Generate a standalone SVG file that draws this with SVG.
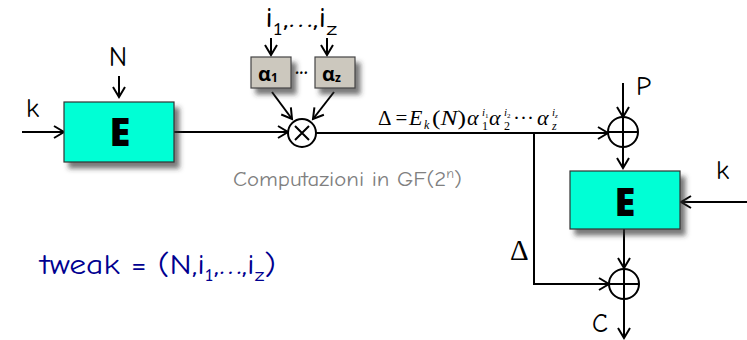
<svg xmlns="http://www.w3.org/2000/svg" width="747" height="340" viewBox="0 0 747 340">
<defs>
<marker id="arr" markerUnits="userSpaceOnUse" markerWidth="14" markerHeight="14" refX="11" refY="6" orient="auto" overflow="visible">
<path d="M1,0 L11,6 L1,12" fill="none" stroke="#000" stroke-width="2"/>
</marker>
<filter id="sh" x="-20%" y="-20%" width="150%" height="160%">
<feDropShadow dx="5" dy="6" stdDeviation="2.5" flood-color="#333" flood-opacity="0.65"/>
</filter>
</defs>
<style>
.lbl{font-family:"Comic Sans MS","Comic Neue","Open Sans","Liberation Sans",sans-serif;fill:#000}
.ebox{fill:#00FFD5;stroke:#333;stroke-width:1.2;filter:url(#sh)}
.abox{fill:#CCC8BE;stroke:#444;stroke-width:1.2;filter:url(#sh)}
.et{font-family:"Open Sans","Liberation Sans",sans-serif;font-weight:800;font-size:38px;text-anchor:middle;fill:#000}
.at{font-family:"Open Sans","Liberation Sans",sans-serif;font-weight:bold;font-size:20px;fill:#000}
.ln{fill:none;stroke:#000;stroke-width:2}
.op{fill:#fff;stroke:#000;stroke-width:2}
.ser{font-family:"Liberation Serif","Times New Roman",serif;fill:#000}
.it{font-style:italic}
</style>

<g id="connectors">
<path class="ln" d="M22,132 L64,132" marker-end="url(#arr)"/>
<path class="ln" d="M119,76 L119,97" marker-end="url(#arr)"/>
<path class="ln" d="M174,132 L288,132" marker-end="url(#arr)"/>
<path class="ln" d="M271,38 L271,55" marker-end="url(#arr)"/>
<path class="ln" d="M327,38 L327,55" marker-end="url(#arr)"/>
<path class="ln" d="M272,92 L292,119" marker-end="url(#arr)"/>
<path class="ln" d="M334,92 L313,119" marker-end="url(#arr)"/>
<path class="ln" d="M316,133 L608,133" marker-end="url(#arr)"/>
<path class="ln" d="M534,133 L534,284 L609,284" marker-end="url(#arr)"/>
<path class="ln" d="M623,83 L623,117" marker-end="url(#arr)"/>
<path class="ln" d="M623,147 L623,168" marker-end="url(#arr)"/>
<path class="ln" d="M747,202 L681,202" marker-end="url(#arr)"/>
<path class="ln" d="M624,229 L624,268" marker-end="url(#arr)"/>
<path class="ln" d="M624,299 L624,338" marker-end="url(#arr)"/>
</g>

<g id="E1">
<rect class="ebox" x="64" y="102" width="110" height="60"/>
<text class="et" x="120" y="146">E</text>
</g>

<g id="E2">
<rect class="ebox" x="570" y="171" width="110" height="58"/>
<text class="et" x="625" y="216">E</text>
</g>

<g id="alpha1">
<rect class="abox" x="251" y="57" width="40" height="31"/>
<text class="at" x="258" y="81">α<tspan font-size="12" dy="1">1</tspan></text>
</g>

<g id="alphaz">
<rect class="abox" x="315" y="57" width="40" height="31"/>
<text class="at" x="322" y="81">α<tspan font-size="12" dy="1">z</tspan></text>
</g>

<g id="dots">
<text class="lbl" x="295" y="78" font-size="22" font-weight="bold">···</text>
</g>

<g id="mult">
<circle class="op" cx="302" cy="133" r="14"/>
<path class="ln" d="M295,126 L309,140 M309,126 L295,140"/>
</g>

<g id="xor1">
<circle class="op" cx="623" cy="132" r="15"/>
<path class="ln" d="M608,132 L638,132 M623,117 L623,147"/>
</g>

<g id="xor2">
<circle class="op" cx="624" cy="284" r="15"/>
<path class="ln" d="M609,284 L639,284 M624,269 L624,299"/>
</g>

<g id="labels">
<text class="lbl" x="26" y="117" font-size="27">k</text>
<text class="lbl" x="118" y="66" font-size="28" text-anchor="middle">N</text>
<text class="lbl" x="265" y="27" font-size="28" textLength="72" lengthAdjust="spacingAndGlyphs">i<tspan font-size="19" dy="8">1</tspan><tspan dy="-8">,…,i</tspan><tspan font-size="19" dy="8">z</tspan></text>
<text class="lbl" x="636" y="95" font-size="27">P</text>
<text class="lbl" x="716" y="179" font-size="27">k</text>
<text class="ser" x="510" y="260" font-size="29">Δ</text>
<text class="lbl" x="592" y="332" font-size="26">C</text>

<text class="ser" x="378" y="125" font-size="21">Δ =</text>
<text class="ser it" x="409" y="125" font-size="22">E</text>
<text class="ser it" x="424" y="129" font-size="12">k</text>
<text class="ser" x="432" y="125" font-size="22" textLength="34" lengthAdjust="spacingAndGlyphs">(<tspan class="it">N</tspan>)</text>
<text class="ser it" x="467" y="125" font-size="22">α</text>
<text class="ser" x="482" y="130" font-size="12">1</text>
<text class="ser it" x="482" y="116" font-size="11">i<tspan font-size="7" dy="2" font-style="normal">1</tspan></text>
<text class="ser it" x="489" y="125" font-size="22">α</text>
<text class="ser" x="504" y="130" font-size="12">2</text>
<text class="ser it" x="504" y="116" font-size="11">i<tspan font-size="7" dy="2" font-style="normal">2</tspan></text>
<text class="ser" x="513" y="125" font-size="21">···</text>
<text class="ser it" x="537" y="125" font-size="22">α</text>
<text class="ser it" x="552" y="130" font-size="12">z</text>
<text class="ser it" x="552" y="116" font-size="11">i<tspan font-size="7" dy="2">z</tspan></text>

<text class="lbl" x="233" y="186" font-size="21" style="fill:#808080" textLength="229" lengthAdjust="spacingAndGlyphs">Computazioni in GF(2<tspan font-size="13" dy="-8">n</tspan><tspan dy="8">)</tspan></text>
<text class="lbl" x="40" y="274" font-size="29" style="fill:#000090" textLength="236" lengthAdjust="spacingAndGlyphs">tweak = (N,i<tspan font-size="19" dy="7">1</tspan><tspan dy="-7">,…,i</tspan><tspan font-size="19" dy="7">z</tspan><tspan dy="-7">)</tspan></text>
</g>
</svg>
